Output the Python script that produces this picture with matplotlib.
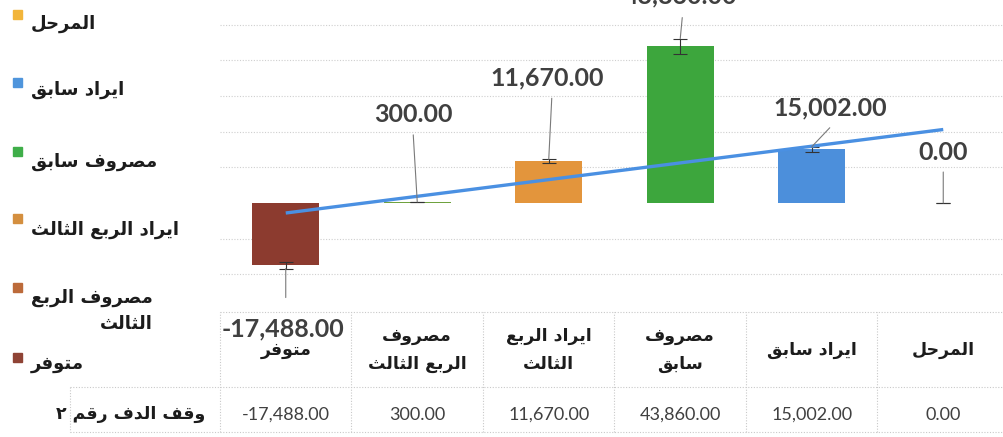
import numpy as np
import matplotlib
matplotlib.use("Agg")
import matplotlib.pyplot as plt
from matplotlib.patches import Rectangle
from matplotlib.lines import Line2D

# chart data (Excel order, legend top to bottom; axis is drawn right-to-left)
categories = ['المرحل', 'ايراد سابق', 'مصروف سابق', 'ايراد الربع الثالث', 'مصروف الربع الثالث', 'متوفر']
values = [0.0, 15002.0, 43860.0, 11670.0, 300.0, -17488.0]
series_name = 'وقف الدف رقم ٢'

# wrapped versions used in the data table header and the legend
header_labels = ['المرحل', 'ايراد سابق', 'مصروف\nسابق', 'ايراد الربع\nالثالث', 'مصروف\nالربع الثالث', 'متوفر']
legend_labels = ['المرحل', 'ايراد سابق', 'مصروف سابق', 'ايراد الربع الثالث', 'مصروف الربع\nالثالث', 'متوفر']

bar_colors = ['#F4B942', '#4C8FDB', '#3DA63D', '#E3953C', '#6FA23F', '#8C3B2F']
legend_colors = ['#F2B53A', '#4F95DC', '#3FAE49', '#D48F3F', '#BC6A3A', '#8F4335']

W, H = 1004, 437

# matplotlib has no arabic shaping, so map letters to presentation forms and reverse
FORMS = {
    'ا': ('\uFE8D', '\uFE8E', None, None),
    'ب': ('\uFE8F', '\uFE90', '\uFE91', '\uFE92'),
    'ت': ('\uFE95', '\uFE96', '\uFE97', '\uFE98'),
    'ث': ('\uFE99', '\uFE9A', '\uFE9B', '\uFE9C'),
    'ح': ('\uFEA1', '\uFEA2', '\uFEA3', '\uFEA4'),
    'د': ('\uFEA9', '\uFEAA', None, None),
    'ر': ('\uFEAD', '\uFEAE', None, None),
    'س': ('\uFEB1', '\uFEB2', '\uFEB3', '\uFEB4'),
    'ص': ('\uFEB9', '\uFEBA', '\uFEBB', '\uFEBC'),
    'ع': ('\uFEC9', '\uFECA', '\uFECB', '\uFECC'),
    'ف': ('\uFED1', '\uFED2', '\uFED3', '\uFED4'),
    'ق': ('\uFED5', '\uFED6', '\uFED7', '\uFED8'),
    'ل': ('\uFEDD', '\uFEDE', '\uFEDF', '\uFEE0'),
    'م': ('\uFEE1', '\uFEE2', '\uFEE3', '\uFEE4'),
    'و': ('\uFEED', '\uFEEE', None, None),
    'ي': ('\uFEF1', '\uFEF2', '\uFEF3', '\uFEF4'),
}


def shape_arabic(text):
    """Join arabic letters and reverse each line for left-to-right drawing."""
    lines = []
    for line in text.split('\n'):
        out = []
        for i, ch in enumerate(line):
            if ch not in FORMS:
                out.append(ch)
                continue
            prev_ch = line[i - 1] if i > 0 else ''
            next_ch = line[i + 1] if i < len(line) - 1 else ''
            join_prev = prev_ch in FORMS and FORMS[prev_ch][2] is not None
            join_next = next_ch in FORMS and FORMS[ch][2] is not None
            iso, fin, ini, med = FORMS[ch]
            if join_prev and join_next:
                out.append(med)
            elif join_prev:
                out.append(fin)
            elif join_next:
                out.append(ini)
            else:
                out.append(iso)
        lines.append(''.join(reversed(out)))
    return '\n'.join(lines)


def fx(x):
    return x / W


def fy(y):
    return 1 - y / H


ARABIC = dict(family='DejaVu Sans', fontweight='bold', color='#1c1c1c')

fig = plt.figure(figsize=(W / 100, H / 100), dpi=100)
fig.patch.set_facecolor('white')

# plot area runs right up to (slightly past) the image edge
ax_left, ax_right = 220, 1009
ax = fig.add_axes([fx(ax_left), fy(310), (ax_right - ax_left) / W, 310 / H])
ax.set_xlim(-0.5, 5.5)
ax.set_ylim(-29972, 56863)
for s in ax.spines.values():
    s.set_visible(False)
ax.set_xticks([])
ax.set_yticks([v for v in range(-20000, 60000, 10000) if v != 0])
ax.tick_params(axis='y', length=0, labelleft=False)
ax.grid(axis='y', color='#cfcfcf', linestyle=(0, (1, 1.5)), linewidth=0.8)
ax.set_axisbelow(True)

n = len(categories)
pos = np.array([n - 1 - i for i in range(n)])
vals = np.array(values)
err = np.abs(vals) * 0.05

ax.bar(pos, vals, width=0.51, color=bar_colors, zorder=2)
ax.errorbar(pos, vals, yerr=err, fmt='none', ecolor='#333333', elinewidth=0.8,
            capsize=5, capthick=0.8, zorder=3)

# linear trendline across the categories
k, b = np.polyfit(pos, vals, 1)
xt = np.array([pos.min(), pos.max()])
ax.plot(xt, k * xt + b, color='#4A90E2', linewidth=2.4, zorder=4, solid_capstyle='butt')

# data labels sit away from the bars with leader lines (offsets in pixels)
label_offsets = {
    'متوفر': ((0, -29), (-3, -60)),
    'مصروف الربع الثالث': ((-4, 67), (-4, 87)),
    'ايراد الربع الثالث': ((3, 61), (-2, 81)),
    'مصروف سابق': ((2, 21), (0, 43)),
    'ايراد سابق': ((18, 19), (18, 39)),
    'المرحل': ((0, 31), (0, 51)),
}
for cat, p, v, e in zip(categories, pos, vals, err):
    tip = v + e if v >= 0 else v - e
    lead, txt = label_offsets[cat]
    ax.annotate('', xy=(p, tip), xytext=lead, textcoords='offset pixels',
                arrowprops=dict(arrowstyle='-', color='#7a7a7a', lw=0.8,
                                shrinkA=0, shrinkB=0), annotation_clip=False, zorder=5)
    ax.annotate(f'{v:,.2f}', xy=(p, tip), xytext=txt, textcoords='offset pixels',
                ha='center', va='center', fontsize=18, fontweight='bold',
                family='Lato', color='#404040', annotation_clip=False, zorder=6)

# data table under the plot, sharing the category positions
tab = fig.add_axes([fx(ax_left), fy(432), (ax_right - ax_left) / W, 120 / H])
tab.set_xlim(-0.5, 5.5)
tab.set_ylim(0, 120)
tab.axis('off')
grid_kw = dict(color='#c9c9c9', linestyle=(0, (1, 1.5)), linewidth=0.8)
for xb in np.arange(-0.5, 6.0, 1.0):
    tab.plot([xb, xb], [0, 120], clip_on=False, **grid_kw)
for yb in (0, 45, 120):
    tab.plot([-0.5, 5.5], [yb, yb], clip_on=False, **grid_kw)

for lab, p, v in zip(header_labels, pos, vals):
    tab.text(p, 82, shape_arabic(lab), ha='center', va='center', fontsize=12.5,
             linespacing=1.75, **ARABIC)
    tab.text(p, 17, f'{v:,.2f}', ha='center', va='center', fontsize=13,
             family='Lato', color='#404040')

# row label cell to the left of the table
fig.add_artist(Line2D([fx(70), fx(ax_left)], [fy(387), fy(387)], **grid_kw))
fig.add_artist(Line2D([fx(70), fx(ax_left)], [fy(432), fy(432)], **grid_kw))
fig.add_artist(Line2D([fx(70), fx(70)], [fy(387), fy(432)], **grid_kw))
fig.text(fx(205), fy(414), shape_arabic(series_name), ha='right', va='center',
         fontsize=12.5, **ARABIC)

# legend on the left: marker then right-to-left label
legend_rows = [14, 82, 151, 218, 287, 357]
legend_text_y = [24, 90, 162, 230, 311, 364]
for lab, col, my, ty in zip(legend_labels, legend_colors, legend_rows, legend_text_y):
    fig.add_artist(Rectangle((fx(13), fy(my + 5)), 9 / W, 9 / H,
                             transform=fig.transFigure, color=col))
    fig.text(fx(31), fy(ty), shape_arabic(lab), ha='left', va='center',
             multialignment='right', fontsize=13, linespacing=1.55, **ARABIC)

fig.savefig('out.png', dpi=100)
